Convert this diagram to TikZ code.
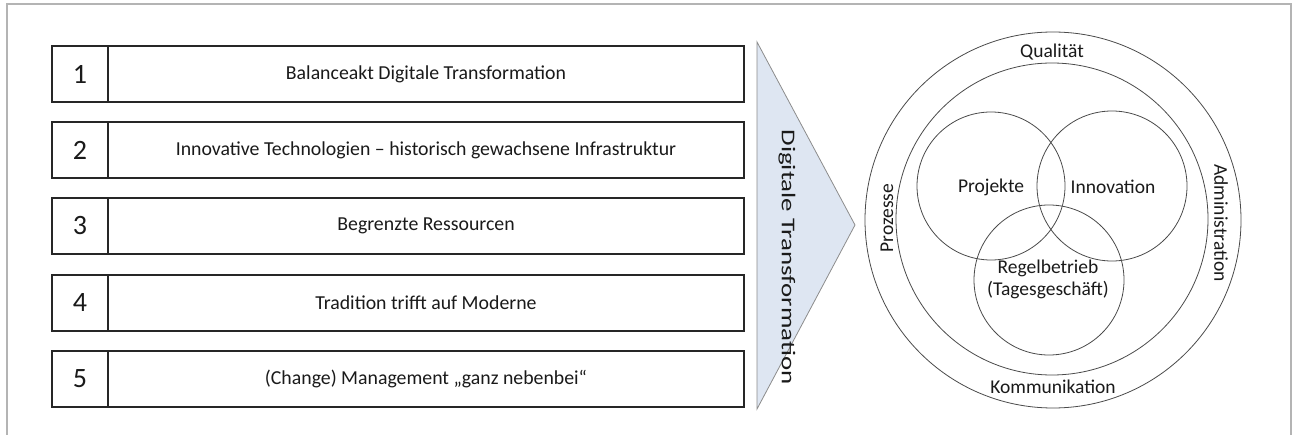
\documentclass[tikz,border=0pt]{standalone}
\usepackage{fontspec}
\setmainfont{Carlito}
\usepackage{graphicx}
\definecolor{boxline}{HTML}{262626}
\definecolor{ringline}{HTML}{4A4A4A}
\definecolor{txt}{HTML}{1A1A1A}
\definecolor{frame}{HTML}{B4B4B4}
\definecolor{wedgefill}{HTML}{DEE6F2}
\definecolor{wedgeline}{HTML}{8C8C8C}
\begin{document}
\begin{tikzpicture}[x=1pt,y=-1pt,
  numcell/.style={draw=boxline, line width=1.6pt, minimum width=56pt, minimum height=56pt,
    inner sep=0pt, font=\fontsize{28}{30}\selectfont, text=txt},
  textcell/.style={draw=boxline, line width=1.6pt, minimum width=636pt, minimum height=56pt,
    inner sep=0pt, font=\fontsize{19.8}{22}\selectfont, text=txt},
  ring/.style={circle, draw=ringline, line width=0.8pt, inner sep=0pt},
  lbl/.style={font=\fontsize{19.5}{22}\selectfont, text=txt, inner sep=0pt, align=center}]
\useasboundingbox (0,0) rectangle (1298,435);
\fill[white] (0,0) rectangle (1298,435);
% outer frame (open at the bottom)
\draw[frame, line width=1.5pt] (7,435) -- (7,4) -- (1291,4) -- (1291,435);

% numbered challenge rows
\foreach \k/\txt/\cy in {1/Balanceakt Digitale Transformation/74,
    2/Innovative Technologien – historisch gewachsene Infrastruktur/150,
    3/Begrenzte Ressourcen/226,
    4/Tradition trifft auf Moderne/303,
    5/(Change) Management „ganz nebenbei“/379}{
  \node[numcell] (n\k) at (80,\cy) {\k};
  \node[textcell] (t\k) at (426,\cy) {\txt};
}

% wedge
\coordinate (wtop) at (757,42);
\coordinate (wtip) at (855,225);
\coordinate (wbot) at (757,409);
\draw[wedgeline, fill=wedgefill, line width=0.8pt, line join=miter] (wtop) -- (wtip) -- (wbot) -- cycle;
\node[lbl, rotate=-90] (wlabel) at (787,257) {\scalebox{1.38}[1]{Digitale Transformation}};

% circles
\node[ring, minimum size=376pt] (outer) at (1053,220) {};
\node[ring, minimum size=312pt] (inner) at (1052,219) {};
\node[ring, minimum size=148pt] (cproj) at (991,186) {};
\node[ring, minimum size=150pt] (cinno) at (1112,186) {};
\node[ring, minimum size=150pt] (cregel) at (1049,280) {};

% circle labels
\node[lbl] (lqual) at (1052,52) {Qualität};
\node[lbl] (lkomm) at (1053,387) {Kommunikation};
\node[lbl, rotate=90] (lproz) at (887,218) {Prozesse};
\node[lbl, rotate=-90] (ladmin) at (1221,223) {Administration};
\node[lbl] (lproj) at (991,187) {Projekte};
\node[lbl] (linno) at (1113,187) {Innovation};
\node[lbl] (lregel) at (1048,279) {Regelbetrieb\\(Tagesgeschäft)};
\end{tikzpicture}
\end{document}
